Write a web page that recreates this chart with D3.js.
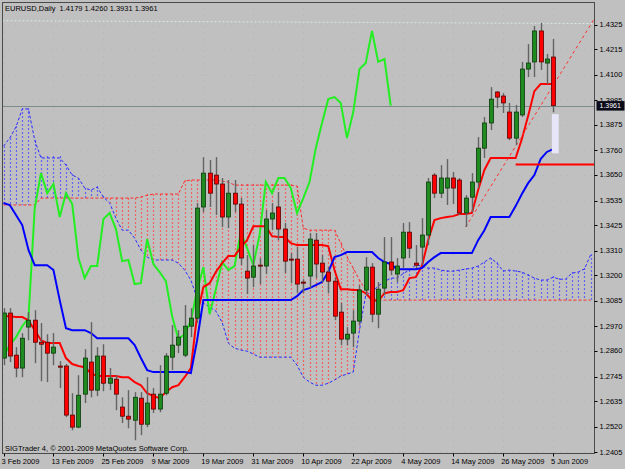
<!DOCTYPE html>
<html>
<head>
<meta charset="utf-8">
<script src="https://cdn.jsdelivr.net/npm/d3@7"></script>
<style>
body { margin: 0; background: #c0c0c0; }
svg { display: block; font-family: "Liberation Sans", Arial, sans-serif; }
</style>
</head>
<body>
<div id="chart"></div>
<script>
// chart text
var header = "EURUSD,Daily  1.4179 1.4260 1.3931 1.3961";
var footer = "SIGTrader 4, \u00a9 2001-2009 MetaQuotes Software Corp.";

// date labels on the time axis, and the bar each one sits on
var dateLabels = ["3 Feb 2009", "13 Feb 2009", "25 Feb 2009", "9 Mar 2009", "19 Mar 2009", "31 Mar 2009",
                  "10 Apr 2009", "22 Apr 2009", "4 May 2009", "14 May 2009", "26 May 2009", "5 Jun 2009"];
var dateBars = [0, 8, 16, 24, 32, 40, 48, 56, 64, 72, 80, 88];

// price labels on the right axis
var priceTicks = ["1.4325", "1.4215", "1.4100", "1.3985", "1.3875", "1.3760", "1.3650", "1.3535", "1.3425",
                  "1.3310", "1.3200", "1.3085", "1.2970", "1.2860", "1.2745", "1.2635", "1.2520", "1.2405"];
var lastPrice = 1.3961;

// daily bars
var opens = [1.2828,1.3030,1.2841,1.2783,1.2967,1.2998,1.2899,1.2899,1.2850,1.2792,
             1.2792,1.2572,1.2518,1.2666,1.2810,1.2684,1.2837,1.2715,1.2733,1.2608,
             1.2567,1.2549,1.2648,1.2531,1.2666,1.2599,1.2670,1.2832,1.2886,1.2841,
             1.2971,1.3007,1.3506,1.3658,1.3649,1.3609,1.3461,1.3568,1.3519,1.3218,
             1.3191,1.3245,1.3241,1.3452,1.3506,1.3407,1.3272,1.3272,1.3169,1.3196,
             1.3357,1.3254,1.3214,1.3173,1.3034,1.2913,1.2940,1.2994,1.3133,1.3236,
             1.3025,1.3142,1.3259,1.3205,1.3277,1.3393,1.3254,1.3326,1.3380,1.3649,
             1.3568,1.3591,1.3636,1.3627,1.3479,1.3550,1.3618,1.3770,1.3883,1.4022,
             1.4004,1.3932,1.3815,1.3919,1.4125,1.4157,1.4296,1.4152,1.4179];
var highs = [1.3052,1.3052,1.2877,1.2940,1.3034,1.3043,1.2985,1.2935,1.2940,1.2814,
             1.2801,1.2670,1.2751,1.2868,1.2989,1.2877,1.2890,1.2783,1.2751,1.2652,
             1.2684,1.2675,1.2675,1.2742,1.2693,1.2796,1.2850,1.2976,1.2953,1.3066,
             1.3052,1.3524,1.3730,1.3717,1.3730,1.3636,1.3627,1.3627,1.3546,1.3290,
             1.3335,1.3277,1.3492,1.3524,1.3573,1.3434,1.3299,1.3326,1.3182,1.3389,
             1.3389,1.3290,1.3236,1.3191,1.3075,1.2967,1.3043,1.3155,1.3281,1.3254,
             1.3169,1.3371,1.3371,1.3277,1.3434,1.3438,1.3335,1.3456,1.3636,1.3658,
             1.3694,1.3721,1.3663,1.3636,1.3559,1.3658,1.3820,1.3910,1.4044,1.4026,
             1.4017,1.3973,1.3964,1.4157,1.4237,1.4318,1.4332,1.4193,1.4260];
var lows = [1.2796,1.2810,1.2742,1.2742,1.2908,1.2805,1.2724,1.2720,1.2796,1.2693,
            1.2563,1.2504,1.2513,1.2626,1.2652,1.2657,1.2679,1.2684,1.2594,1.2536,
            1.2513,1.2459,1.2482,1.2518,1.2581,1.2585,1.2661,1.2774,1.2850,1.2832,
            1.2922,1.2985,1.3483,1.3506,1.3470,1.3416,1.3411,1.3483,1.3245,1.3115,
            1.3146,1.3160,1.3205,1.3402,1.3357,1.3209,1.3164,1.3119,1.3119,1.3142,
            1.3187,1.3169,1.3119,1.2998,1.2886,1.2886,1.2877,1.2976,1.3110,1.2989,
            1.2962,1.3110,1.3200,1.3169,1.3232,1.3277,1.3232,1.3245,1.3335,1.3546,
            1.3546,1.3515,1.3519,1.3470,1.3416,1.3483,1.3591,1.3726,1.3851,1.3950,
            1.3928,1.3806,1.3784,1.3910,1.4089,1.4089,1.4121,1.4058,1.3931];
var closes = [1.3030,1.2837,1.2783,1.2917,1.2998,1.2899,1.2890,1.2850,1.2877,1.2787,
              1.2572,1.2518,1.2661,1.2828,1.2684,1.2837,1.2715,1.2738,1.2666,1.2567,
              1.2554,1.2652,1.2531,1.2626,1.2599,1.2666,1.2837,1.2886,1.2922,1.2971,
              1.3007,1.3501,1.3658,1.3568,1.3609,1.3461,1.3568,1.3519,1.3277,1.3187,
              1.3241,1.3241,1.3452,1.3479,1.3407,1.3263,1.3268,1.3160,1.3164,1.3362,
              1.3250,1.3214,1.3173,1.3016,1.2913,1.2935,1.2994,1.3133,1.3236,1.3025,
              1.3137,1.3259,1.3223,1.3241,1.3393,1.3321,1.3245,1.3380,1.3618,1.3568,
              1.3636,1.3636,1.3591,1.3479,1.3546,1.3618,1.3770,1.3883,1.3990,1.3999,
              1.3973,1.3815,1.3932,1.4125,1.4152,1.4296,1.4157,1.4170,1.3961];

// Ichimoku lines
var tenkan = [1.3016,1.3016,1.3012,1.3012,1.2998,1.2953,1.2908,1.2895,1.2895,1.2895,
              1.2828,1.2801,1.2792,1.2787,1.2760,1.2747,1.2747,1.2747,1.2747,1.2742,
              1.2742,1.2720,1.2706,1.2670,1.2657,1.2648,1.2675,1.2697,1.2706,1.2742,
              1.2783,1.3021,1.3146,1.3164,1.3214,1.3254,1.3286,1.3286,1.3326,1.3357,
              1.3420,1.3420,1.3420,1.3375,1.3371,1.3371,1.3344,1.3335,1.3335,1.3335,
              1.3335,1.3335,1.3330,1.3223,1.3137,1.3137,1.3133,1.3133,1.3119,1.3088,
              1.3084,1.3119,1.3124,1.3124,1.3133,1.3187,1.3191,1.3241,1.3357,1.3447,
              1.3456,1.3461,1.3465,1.3474,1.3474,1.3479,1.3582,1.3672,1.3726,1.3726,
              1.3726,1.3726,1.3726,1.3811,1.3914,1.4026,1.4058,1.4058,1.4058];
var kijun = [1.3524,1.3515,1.3470,1.3425,1.3313,1.3245,1.3245,1.3245,1.3223,1.3088,
             1.2962,1.2953,1.2953,1.2953,1.2940,1.2917,1.2917,1.2917,1.2917,1.2917,
             1.2917,1.2886,1.2828,1.2774,1.2765,1.2765,1.2765,1.2765,1.2765,1.2765,
             1.2760,1.2908,1.3088,1.3088,1.3088,1.3088,1.3088,1.3088,1.3088,1.3088,
             1.3088,1.3088,1.3088,1.3088,1.3088,1.3088,1.3088,1.3106,1.3133,1.3142,
             1.3155,1.3169,1.3214,1.3281,1.3290,1.3304,1.3304,1.3304,1.3304,1.3304,
             1.3277,1.3259,1.3250,1.3227,1.3227,1.3227,1.3227,1.3232,1.3259,1.3281,
             1.3299,1.3299,1.3299,1.3299,1.3299,1.3299,1.3357,1.3402,1.3461,1.3461,
             1.3461,1.3461,1.3510,1.3564,1.3613,1.3649,1.3721,1.3753,1.3766];
// leading spans run 6 bars past the last candle
var spanA = [1.3779,1.3815,1.3865,1.3946,1.3946,1.3806,1.3726,1.3726,1.3726,1.3726,
             1.3694,1.3649,1.3636,1.3591,1.3582,1.3595,1.3550,1.3524,1.3456,1.3402,
             1.3402,1.3366,1.3313,1.3281,1.3268,1.3268,1.3268,1.3268,1.3254,1.3223,
             1.3178,1.3097,1.3075,1.3057,1.3039,1.2989,1.2895,1.2872,1.2864,1.2859,
             1.2846,1.2832,1.2832,1.2832,1.2832,1.2832,1.2832,1.2796,1.2742,1.2720,
             1.2706,1.2706,1.2715,1.2729,1.2747,1.2756,1.2765,1.2953,1.3110,1.3124,
             1.3151,1.3171,1.3187,1.3187,1.3207,1.3223,1.3245,1.3241,1.3232,1.3232,
             1.3223,1.3218,1.3218,1.3223,1.3227,1.3232,1.3241,1.3259,1.3277,1.3254,
             1.3218,1.3223,1.3218,1.3214,1.3200,1.3187,1.3178,1.3178,1.3191,1.3182,
             1.3182,1.3209,1.3214,1.3227,1.3290];
var spanB = [1.3515,1.3515,1.3515,1.3515,1.3515,1.3515,1.3546,1.3546,1.3546,1.3546,
             1.3546,1.3546,1.3546,1.3546,1.3546,1.3546,1.3546,1.3546,1.3546,1.3546,
             1.3546,1.3546,1.3550,1.3559,1.3564,1.3564,1.3564,1.3564,1.3564,1.3622,
             1.3627,1.3627,1.3627,1.3627,1.3627,1.3622,1.3618,1.3604,1.3604,1.3604,
             1.3604,1.3604,1.3604,1.3604,1.3604,1.3604,1.3604,1.3600,1.3411,1.3402,
             1.3402,1.3402,1.3402,1.3402,1.3344,1.3281,1.3232,1.3178,1.3133,1.3097,
             1.3088,1.3088,1.3088,1.3088,1.3088,1.3088,1.3088,1.3088,1.3088,1.3088,
             1.3088,1.3088,1.3088,1.3088,1.3088,1.3088,1.3088,1.3088,1.3088,1.3088,
             1.3088,1.3088,1.3088,1.3088,1.3088,1.3088,1.3088,1.3088,1.3088,1.3088,
             1.3088,1.3088,1.3088,1.3088,1.3088];

// drawn objects: trend line, level line, top dotted line and the highlight box
var trendBars = [74, 88], trendPrices = [1.3416, 1.4051];
var topLineBars = [0, 88], topLinePrices = [1.4342, 1.4330];
var levelStart = 82, levelPrice = 1.3697;
var boxBars = [87.8, 88.9], boxPrices = [1.3923, 1.3747];

var width = 625, height = 469;
var plotL = 2.5, plotT = 2.5, plotR = 594.5, plotB = 453.5;
var lastBar = 95;

var x = d3.scaleLinear().domain([0, 88]).range([3.5, 553.1]);
var y = d3.scaleLinear().domain([1.2405, 1.4325]).range([452.3, 24.5]);

var svg = d3.select("#chart")
  .append("svg")
    .attr("width", width)
    .attr("height", height);

svg.append("rect")
  .attr("width", width)
  .attr("height", height)
  .attr("fill", "#c0c0c0");

svg.append("clipPath").attr("id", "clip")
  .append("rect")
    .attr("x", plotL + 0.5).attr("y", plotT + 0.5)
    .attr("width", plotR - plotL - 1).attr("height", plotB - plotT - 1);

var plot = svg.append("g").attr("clip-path", "url(#clip)");

// snap to whole pixels so the dots line up
function px(v) { return Math.round(v) + 0.5; }
function even(v) { return Math.floor(v / 2) * 2; }

// dotted grid
plot.selectAll(".hgrid")
  .data(priceTicks)
  .enter()
  .append("line")
    .attr("x1", plotL).attr("x2", plotR)
    .attr("y1", function(d) { return px(y(+d)); })
    .attr("y2", function(d) { return px(y(+d)); })
    .attr("stroke", "#adb6b6")
    .attr("stroke-dasharray", "1,5");
plot.selectAll(".vgrid")
  .data(dateBars)
  .enter()
  .append("line")
    .attr("x1", function(d) { return px(x(d)); })
    .attr("x2", function(d) { return px(x(d)); })
    .attr("y1", plotT).attr("y2", plotB)
    .attr("stroke", "#adb6b6")
    .attr("stroke-dasharray", "1,5");

// cloud hatching: one dotted stroke per bar, coloured by the span on top
var blue = "#2a2aff", red = "#ff2a2a";
var hatchBlue = "#6464f4", hatchRed = "#f06464";
plot.selectAll(".hatch")
  .data(spanA)
  .enter()
  .append("line")
    .attr("x1", function(d, i) { return px(x(i)); })
    .attr("x2", function(d, i) { return px(x(i)); })
    .attr("y1", function(d, i) { return even(Math.min(y(d), y(spanB[i]))); })
    .attr("y2", function(d, i) { return Math.max(y(d), y(spanB[i])); })
    .attr("stroke", function(d, i) { return d > spanB[i] ? hatchBlue : hatchRed; })
    .attr("stroke-width", 1.2)
    .attr("stroke-dasharray", "2,2");

var line = d3.line()
  .x(function(d, i) { return x(i); })
  .y(function(d) { return y(d); });

plot.append("path")
  .datum(spanA)
  .attr("fill", "none")
  .attr("stroke", blue)
  .attr("stroke-width", 1)
  .attr("stroke-dasharray", "3,2")
  .attr("d", line);
plot.append("path")
  .datum(spanB)
  .attr("fill", "none")
  .attr("stroke", red)
  .attr("stroke-width", 1)
  .attr("stroke-dasharray", "3,2")
  .attr("d", line);

// bid line
plot.append("line")
  .attr("x1", plotL).attr("x2", plotR)
  .attr("y1", px(y(lastPrice)))
  .attr("y2", px(y(lastPrice)))
  .attr("stroke", "#7d8b8b");

// helper for two-point lines extended to the right edge
function rayPoint(bars, prices, b) {
  return prices[0] + (prices[1] - prices[0]) * (b - bars[0]) / (bars[1] - bars[0]);
}

// light dotted line near the top
plot.append("line")
  .attr("x1", plotL).attr("x2", plotR)
  .attr("y1", y(rayPoint(topLineBars, topLinePrices, x.invert(plotL))))
  .attr("y2", y(rayPoint(topLineBars, topLinePrices, x.invert(plotR))))
  .attr("stroke", "#d6ebe6")
  .attr("stroke-width", 1)
  .attr("stroke-dasharray", "2,2");

// chikou span: closes shifted back 26 bars
plot.append("path")
  .datum(closes.slice(26))
  .attr("fill", "none")
  .attr("stroke", "#22ee22")
  .attr("stroke-width", 2)
  .attr("d", line);

plot.append("path")
  .datum(tenkan)
  .attr("fill", "none")
  .attr("stroke", "#ff0000")
  .attr("stroke-width", 2)
  .attr("d", line);

plot.append("path")
  .datum(kijun)
  .attr("fill", "none")
  .attr("stroke", "#0000ff")
  .attr("stroke-width", 2)
  .attr("d", line);

// trend line
plot.append("line")
  .attr("x1", x(trendBars[0]))
  .attr("y1", y(trendPrices[0]))
  .attr("x2", x(lastBar))
  .attr("y2", y(rayPoint(trendBars, trendPrices, lastBar)))
  .attr("stroke", "#ff3030")
  .attr("stroke-width", 1)
  .attr("stroke-dasharray", "3,3");

// horizontal level
plot.append("line")
  .attr("x1", x(levelStart))
  .attr("x2", x(lastBar))
  .attr("y1", y(levelPrice))
  .attr("y2", y(levelPrice))
  .attr("stroke", "#ff0000")
  .attr("stroke-width", 2);

// highlight box
plot.append("rect")
  .attr("x", x(boxBars[0]))
  .attr("width", x(boxBars[1]) - x(boxBars[0]))
  .attr("y", y(boxPrices[0]))
  .attr("height", y(boxPrices[1]) - y(boxPrices[0]))
  .attr("fill", "#e6e6f8");

// candles
var bars = d3.range(closes.length);
plot.selectAll(".wick")
  .data(bars)
  .enter()
  .append("line")
    .attr("x1", function(i) { return px(x(i)); })
    .attr("x2", function(i) { return px(x(i)); })
    .attr("y1", function(i) { return y(highs[i]); })
    .attr("y2", function(i) { return y(lows[i]); })
    .attr("stroke", "#636363")
    .attr("stroke-width", 1.4);

plot.selectAll(".body")
  .data(bars)
  .enter()
  .append("rect")
    .attr("x", function(i) { return Math.round(x(i)) - 1.5; })
    .attr("width", 4)
    .attr("y", function(i) { return y(Math.max(opens[i], closes[i])); })
    .attr("height", function(i) { return Math.max(1, Math.abs(y(opens[i]) - y(closes[i]))); })
    .attr("fill", function(i) { return closes[i] >= opens[i] ? "#1f8a1f" : "#ff0000"; })
    .attr("stroke", function(i) { return closes[i] >= opens[i] ? "#0b3a0b" : "#5a0000"; })
    .attr("stroke-width", 0.8);

// frame
svg.append("rect")
  .attr("x", plotL).attr("y", plotT)
  .attr("width", plotR - plotL).attr("height", plotB - plotT)
  .attr("fill", "none")
  .attr("stroke", "#4a4a4a");

// right price axis
var axis = svg.append("g");
axis.selectAll(".tick")
  .data(priceTicks)
  .enter()
  .append("line")
    .attr("x1", plotR).attr("x2", plotR + 3)
    .attr("y1", function(d) { return px(y(+d)); })
    .attr("y2", function(d) { return px(y(+d)); })
    .attr("stroke", "#000");
axis.selectAll(".lbl")
  .data(priceTicks)
  .enter()
  .append("text")
    .attr("x", plotR + 5)
    .attr("y", function(d) { return y(+d) + 2.5; })
    .style("font-size", "7.5px")
    .attr("fill", "#000")
    .text(function(d) { return d; });

axis.append("rect")
  .attr("x", plotR + 2)
  .attr("y", y(lastPrice) - 4.5)
  .attr("width", 28)
  .attr("height", 9.5)
  .attr("fill", "#0a0a18");
axis.append("text")
  .attr("x", plotR + 5)
  .attr("y", y(lastPrice) + 2.8)
  .style("font-size", "7px")
  .attr("fill", "#ffffff")
  .text(lastPrice.toFixed(4));

// bottom time axis
svg.selectAll(".dtick")
  .data(dateBars)
  .enter()
  .append("line")
    .attr("x1", function(d) { return px(x(d)); })
    .attr("x2", function(d) { return px(x(d)); })
    .attr("y1", plotB).attr("y2", plotB + 3)
    .attr("stroke", "#000");
svg.selectAll(".dlbl")
  .data(dateBars)
  .enter()
  .append("text")
    .attr("x", function(d) { return x(d) - 2; })
    .attr("y", 464)
    .style("font-size", "7.5px")
    .attr("fill", "#000")
    .text(function(d, i) { return dateLabels[i]; });

// header and footer
svg.append("text")
  .attr("x", 5).attr("y", 10.5)
  .style("font-size", "7.5px")
  .attr("fill", "#000")
  .attr("xml:space", "preserve")
  .text(header);
svg.append("text")
  .attr("x", 5).attr("y", 451)
  .style("font-size", "7.5px")
  .attr("fill", "#000")
  .text(footer);
</script>
</body>
</html>
